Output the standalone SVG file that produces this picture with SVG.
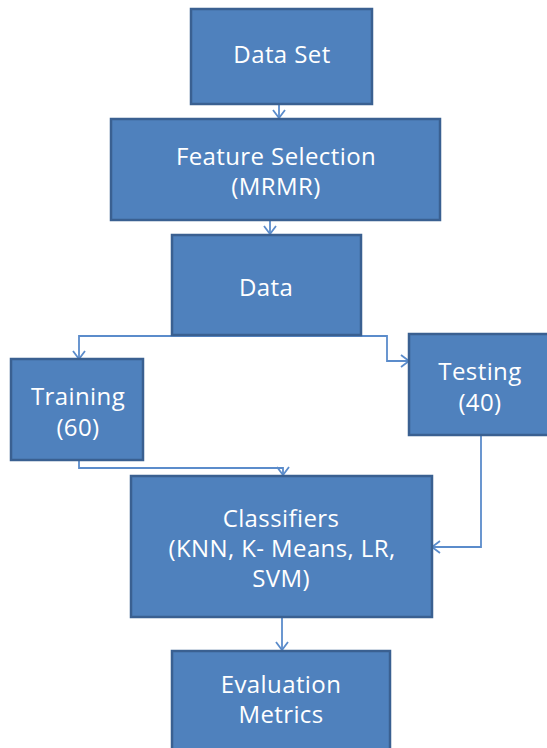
<svg xmlns="http://www.w3.org/2000/svg" width="547" height="748" viewBox="0 0 547 748">
<style>
.box{fill:#4F81BD;stroke:#3A6091;stroke-width:2.5}
.lbl{font-family:"Open Sans","Liberation Sans",sans-serif;font-size:24px;letter-spacing:0.4px;fill:#FFFFFF;text-anchor:middle}
.con{fill:none;stroke:#5B8CCB;stroke-width:1.8}
</style>
<defs>
<marker id="arr" markerUnits="userSpaceOnUse" markerWidth="12" markerHeight="14" refX="9" refY="7" orient="auto">
<path d="M1,1 L9,7 L1,13" fill="none" stroke="#5B8CCB" stroke-width="1.8"/>
</marker>
</defs>
<rect width="547" height="748" fill="#FFFFFF"/>
<g id="connectors">
<line class="con" x1="279" y1="104" x2="279" y2="118" marker-end="url(#arr)"/>
<line class="con" x1="270" y1="220" x2="270" y2="234" marker-end="url(#arr)"/>
<polyline class="con" points="266,336 79,336 79,359" marker-end="url(#arr)"/>
<polyline class="con" points="266,336 387,336 387,361 409,361" marker-end="url(#arr)"/>
<polyline class="con" points="79,460 79,468 283,468 283,475" marker-end="url(#arr)"/>
<polyline class="con" points="481,435 481,547 432,547" marker-end="url(#arr)"/>
<line class="con" x1="282" y1="617" x2="282" y2="650" marker-end="url(#arr)"/>
</g>
<g id="node-dataset">
<rect class="box" x="191" y="9" width="181" height="95"/>
<text class="lbl" x="282" y="63">Data Set</text>
</g>
<g id="node-feature">
<rect class="box" x="111" y="119" width="329" height="101"/>
<text class="lbl" x="276" y="165">Feature Selection</text>
<text class="lbl" x="276" y="195">(MRMR)</text>
</g>
<g id="node-data">
<rect class="box" x="172" y="235" width="189" height="100"/>
<text class="lbl" x="266" y="296">Data</text>
</g>
<g id="node-training">
<rect class="box" x="11" y="359" width="132" height="101"/>
<text class="lbl" x="78" y="405">Training</text>
<text class="lbl" x="78" y="436">(60)</text>
</g>
<g id="node-testing">
<rect class="box" x="409" y="334" width="150" height="101"/>
<text class="lbl" x="480" y="380">Testing</text>
<text class="lbl" x="480" y="411">(40)</text>
</g>
<g id="node-classifiers">
<rect class="box" x="131" y="476" width="301" height="141"/>
<text class="lbl" x="281" y="527">Classifiers</text>
<text class="lbl" x="282" y="557">(KNN, K- Means, LR,</text>
<text class="lbl" x="281" y="587">SVM)</text>
</g>
<g id="node-evaluation">
<rect class="box" x="172" y="651" width="218" height="110"/>
<text class="lbl" x="281" y="693">Evaluation</text>
<text class="lbl" x="281" y="723">Metrics</text>
</g>
</svg>
